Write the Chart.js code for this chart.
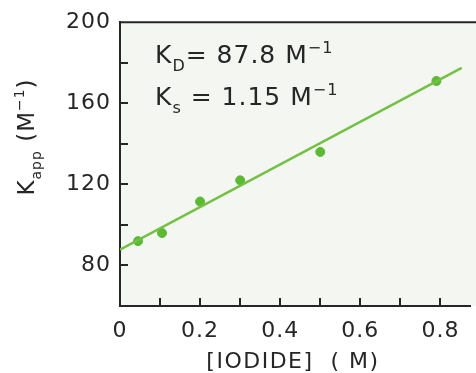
<!DOCTYPE html>
<html>
<head>
<meta charset="utf-8">
<title>K app vs iodide</title>
<script src="https://cdn.jsdelivr.net/npm/chart.js@4.4.1/dist/chart.umd.min.js"></script>
<style>
  html, body { margin: 0; padding: 0; background: #ffffff; }
  #chart { display: block; }
</style>
</head>
<body>
<canvas id="chart" width="476" height="373"></canvas>
<script>
// measured points
const iodide = [0.045, 0.105, 0.2, 0.3, 0.5, 0.79];
const kApp = [92, 96, 111.5, 122, 136, 171];

// fitted line, drawn as two end points
const fitX = [0, 0.853];
const fitY = [87.8, 177.5];

// axis ticks
const xTicks = [0, 0.1, 0.2, 0.3, 0.4, 0.5, 0.6, 0.7, 0.8];
const xTickLabels = ['0', '', '0.2', '', '0.4', '', '0.6', '', '0.8'];
const yTicks = [80, 100, 120, 140, 160, 180, 200];
const yTickLabels = ['80', '', '120', '', '160', '', '200'];

const INK = '#262626';
const GREEN_PT = '#5cb934';
const GREEN_LINE = '#74c045';
const FONT = '"DejaVu Sans", sans-serif';

// draws a run of text pieces with sub/superscripts
function drawRich(ctx, x, y, parts, size, align) {
  const widths = parts.map(p => {
    ctx.font = (p.k ? Math.round(size * 0.62) : size) + 'px ' + FONT;
    return ctx.measureText(p.t).width;
  });
  const total = widths.reduce((a, b) => a + b, 0);
  let cx = align === 'center' ? x - total / 2 : x;
  parts.forEach((p, i) => {
    const small = !!p.k;
    ctx.font = (small ? Math.round(size * 0.62) : size) + 'px ' + FONT;
    let dy = 0;
    if (p.k === 'sub') dy = size * 0.3;
    if (p.k === 'sup') dy = -size * 0.42;
    ctx.fillText(p.t, cx, y + dy);
    cx += widths[i];
  });
}

const framePlugin = {
  id: 'frame',
  beforeDraw(chart) {
    const { ctx, chartArea: a } = chart;
    ctx.save();
    ctx.fillStyle = '#f4f7f1';
    ctx.fillRect(a.left, a.top, chart.width - a.left, a.bottom - a.top);
    ctx.restore();
    // the original face is broad, open the tick labels up a little
    ctx.letterSpacing = '1px';
  },
  afterDraw(chart) {
    const { ctx, chartArea: a, scales } = chart;
    ctx.letterSpacing = '0px';
    ctx.save();
    ctx.strokeStyle = INK;
    ctx.lineWidth = 2;
    // top frame line
    ctx.beginPath();
    ctx.moveTo(a.left, a.top);
    ctx.lineTo(chart.width, a.top);
    ctx.stroke();
    // inward tick marks
    ctx.beginPath();
    xTicks.forEach(v => {
      const px = Math.round(scales.x.getPixelForValue(v));
      if (v === 0) return;
      ctx.moveTo(px, a.bottom);
      ctx.lineTo(px, a.bottom - 8);
    });
    yTicks.forEach(v => {
      const py = Math.round(scales.y.getPixelForValue(v));
      if (v === 200) return;
      ctx.moveTo(a.left, py);
      ctx.lineTo(a.left + 8, py);
    });
    ctx.stroke();

    ctx.fillStyle = INK;
    ctx.textBaseline = 'alphabetic';
    ctx.textAlign = 'left';
    // constants
    ctx.letterSpacing = '1px';
    drawRich(ctx, 155, 63, [
      { t: 'K' }, { t: 'D', k: 'sub' }, { t: '= 87.8 M' }, { t: '\u22121', k: 'sup' }
    ], 25, 'left');
    drawRich(ctx, 155, 105, [
      { t: 'K' }, { t: 's', k: 'sub' }, { t: ' = 1.15 M' }, { t: '\u22121', k: 'sup' }
    ], 25, 'left');

    // x axis title
    ctx.letterSpacing = '1.5px';
    drawRich(ctx, 293, 368, [{ t: '[IODIDE]  ( M)' }], 22, 'center');

    // y axis title, rotated
    ctx.letterSpacing = '1px';
    ctx.translate(34, 137);
    ctx.rotate(-Math.PI / 2);
    drawRich(ctx, 0, 0, [
      { t: 'K' }, { t: 'app', k: 'sub' }, { t: ' (M' }, { t: '\u22121', k: 'sup' }, { t: ')' }
    ], 23, 'center');
    ctx.restore();
    ctx.letterSpacing = '0px';
  }
};

new Chart(document.getElementById('chart'), {
  type: 'scatter',
  data: {
    datasets: [
      {
        label: 'fit',
        type: 'line',
        data: fitX.map((x, i) => ({ x, y: fitY[i] })),
        borderColor: GREEN_LINE,
        borderWidth: 2.5,
        pointRadius: 0,
        fill: false
      },
      {
        label: 'K app',
        data: iodide.map((x, i) => ({ x, y: kApp[i] })),
        backgroundColor: GREEN_PT,
        borderColor: GREEN_PT,
        pointRadius: 4.5,
        pointHoverRadius: 4.5
      }
    ]
  },
  options: {
    responsive: false,
    animation: false,
    events: [],
    layout: { padding: { top: 22, right: 0, left: 0, bottom: 0 } },
    plugins: {
      legend: { display: false },
      tooltip: { enabled: false }
    },
    scales: {
      x: {
        type: 'linear',
        min: 0,
        max: 0.875,
        afterBuildTicks: s => { s.ticks = xTicks.map(v => ({ value: v })); },
        afterFit: s => { s.height = 67; },
        grid: { display: false, drawTicks: false },
        border: { display: true, color: INK, width: 2 },
        ticks: {
          color: INK,
          padding: 12,
          maxRotation: 0,
          autoSkip: false,
          font: { family: FONT, size: 22 },
          callback: (v, i) => xTickLabels[i]
        }
      },
      y: {
        min: 60,
        max: 200,
        afterBuildTicks: s => { s.ticks = yTicks.map(v => ({ value: v })); },
        afterFit: s => { s.width = 120; },
        grid: { display: false, drawTicks: false },
        border: { display: true, color: INK, width: 2 },
        ticks: {
          color: INK,
          padding: 9,
          autoSkip: false,
          font: { family: FONT, size: 22 },
          callback: (v, i) => yTickLabels[i]
        }
      }
    }
  },
  plugins: [framePlugin]
});
</script>
</body>
</html>
